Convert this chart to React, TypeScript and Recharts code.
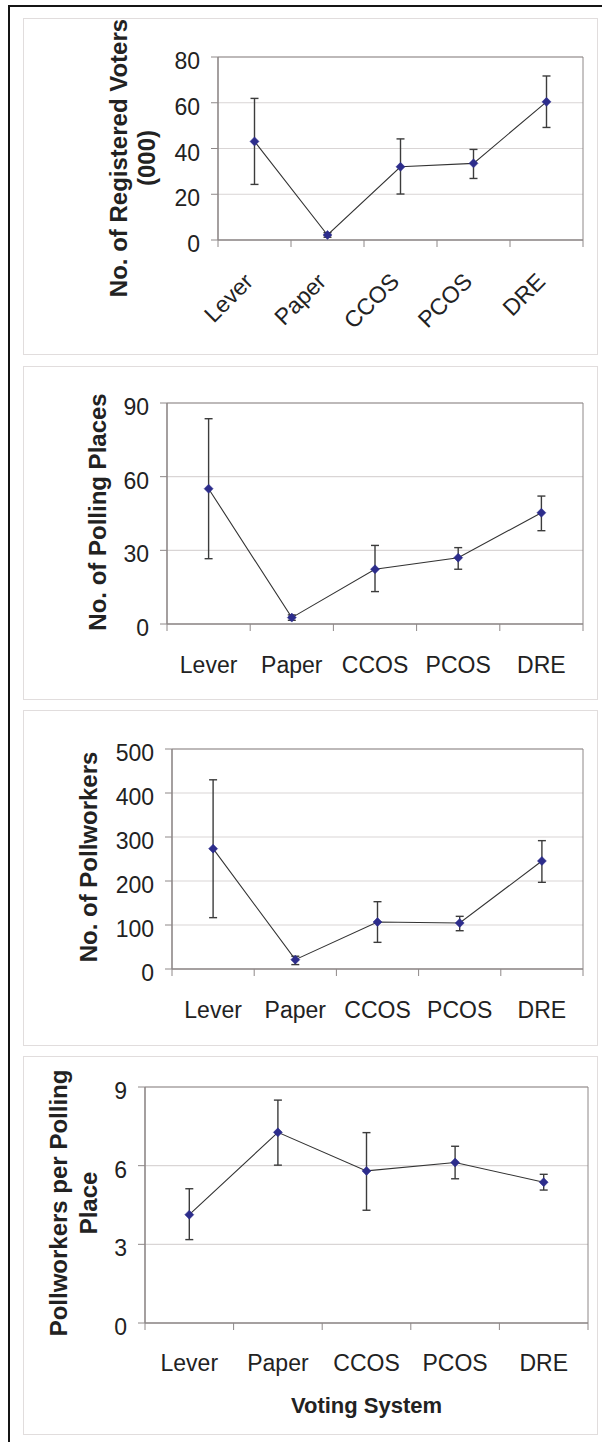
import React from 'react';
import { LineChart, Line, XAxis, YAxis, CartesianGrid, ErrorBar, ReferenceArea, Label } from 'recharts';

const FONT = '"Liberation Sans", Arial, Helvetica, sans-serif';

const categories = ['Lever', 'Paper', 'CCOS', 'PCOS', 'DRE'];

const votersMean = [43.1, 2.2, 32.0, 33.5, 60.4];
const votersHigh = [61.9, 3.2, 44.2, 39.6, 71.7];
const votersLow = [24.3, 1.2, 20.1, 26.9, 49.2];
const votersTicks = [0, 20, 40, 60, 80];

const placesMean = [55.1, 2.6, 22.3, 27.0, 45.3];
const placesHigh = [83.6, 3.7, 32.0, 31.1, 52.1];
const placesLow = [26.6, 1.5, 13.2, 22.3, 38.0];
const placesTicks = [0, 30, 60, 90];

const workersMean = [273.5, 21.2, 106.8, 104.5, 245.5];
const workersHigh = [430, 29, 153, 119.7, 291.7];
const workersLow = [116.7, 10, 60.6, 87, 197];
const workersTicks = [0, 100, 200, 300, 400, 500];

const ratioMean = [4.13, 7.27, 5.8, 6.12, 5.37];
const ratioHigh = [5.12, 8.5, 7.26, 6.74, 5.67];
const ratioLow = [3.18, 6.02, 4.3, 5.5, 5.07];
const ratioTicks = [0, 3, 6, 9];

const GRID = '#d9d5d5';
const BORDER = '#8e8888';
const TEXT = '#222222';

function buildRows(mean: number[], high: number[], low: number[]) {
  return categories.map((name, i) => ({
    name,
    pos: i + 0.5,
    mean: mean[i],
    err: [mean[i] - low[i], high[i] - mean[i]],
  }));
}

// band edges (integers) and band centres (halves) on a numeric category axis
const xTicks: number[] = categories.flatMap((_, i) => [i, i + 0.5]).concat([categories.length]);

const Diamond = (props: any) => {
  const { cx, cy, index } = props;
  if (cx == null || cy == null) return <g key={`d${index}`} />;
  const r = 4.5;
  return (
    <path
      key={`d${index}`}
      d={`M${cx},${cy - r} L${cx + r},${cy} L${cx},${cy + r} L${cx - r},${cy} Z`}
      fill="#2d2d8c"
      stroke="#2d2d8c"
      strokeWidth={0.5}
    />
  );
};

function makeXTick(rotate: boolean, labelDy: number) {
  return (props: any) => {
    const { x, y, payload, index } = props;
    const v = payload.value;
    if (Number.isInteger(v)) {
      return <line key={`t${index}`} x1={x} y1={y} x2={x} y2={y + 7} stroke={BORDER} strokeWidth={1} />;
    }
    const name = categories[Math.floor(v)];
    if (rotate) {
      const ty = y + labelDy;
      return (
        <text
          key={`t${index}`}
          x={x}
          y={ty}
          transform={`rotate(-45 ${x} ${ty})`}
          textAnchor="end"
          fontSize={23}
          fontFamily={FONT}
          fill={TEXT}
        >
          {name}
        </text>
      );
    }
    return (
      <text key={`t${index}`} x={x} y={y + labelDy} textAnchor="middle" fontSize={23} fontFamily={FONT} fill={TEXT}>
        {name}
      </text>
    );
  };
}

type PanelProps = {
  top: number;
  height: number;
  plotLeft: number;
  plotRight: number;
  plotTop: number;
  plotBottom: number;
  rows: any[];
  ticks: number[];
  yLines: { text: string; x: number }[];
  yCenter: number;
  rotate: boolean;
  labelDy: number;
  xTitle?: string;
  xTitleDy?: number;
};

function Panel(p: PanelProps) {
  const W = 602;
  const yAxisW = 60;
  const xAxisH = 40;
  const margin = {
    top: p.plotTop - p.top,
    left: p.plotLeft - yAxisW,
    right: W - p.plotRight,
    bottom: p.top + p.height - p.plotBottom - xAxisH,
  };
  const maxY = p.ticks[p.ticks.length - 1];
  const localCenter = p.yCenter - p.top;
  const localAxisY = p.plotBottom - p.top;
  const yLabel = () => (
    <g>
      {p.yLines.map((l, i) => (
        <text
          key={i}
          x={l.x}
          y={localCenter}
          transform={`rotate(-90 ${l.x} ${localCenter})`}
          textAnchor="middle"
          fontSize={24}
          fontWeight="bold"
          fontFamily={FONT}
          fill={TEXT}
        >
          {l.text}
        </text>
      ))}
    </g>
  );
  const xTitle = () => (
    <text
      x={(p.plotLeft + p.plotRight) / 2}
      y={localAxisY + (p.xTitleDy || 0)}
      textAnchor="middle"
      fontSize={22}
      fontWeight="bold"
      fontFamily={FONT}
      fill={TEXT}
    >
      {p.xTitle}
    </text>
  );
  return (
    <>
      <div
        style={{
          position: 'absolute',
          left: 23,
          top: p.top,
          width: 575,
          height: p.height,
          border: '1.5px solid #e1dddd',
          boxSizing: 'border-box',
        }}
      />
      <div style={{ position: 'absolute', left: 0, top: p.top, width: W, height: p.height }}>
        <LineChart width={W} height={p.height} data={p.rows} margin={margin}>
          <CartesianGrid vertical={false} stroke={GRID} strokeWidth={1.2} />
          <ReferenceArea x1={0} x2={categories.length} y1={0} y2={maxY} fill="none" stroke={BORDER} strokeWidth={1} />
          <XAxis
            dataKey="pos"
            type="number"
            domain={[0, categories.length]}
            ticks={xTicks}
            interval={0}
            height={xAxisH}
            tickSize={0}
            tickMargin={0}
            tickLine={false}
            axisLine={{ stroke: BORDER, strokeWidth: 1.2 }}
            tick={makeXTick(p.rotate, p.labelDy)}
          >
            {p.xTitle ? <Label content={xTitle} /> : null}
          </XAxis>
          <YAxis
            type="number"
            domain={[0, maxY]}
            ticks={p.ticks}
            interval={0}
            width={yAxisW}
            tickSize={7}
            tickMargin={11}
            axisLine={{ stroke: BORDER, strokeWidth: 1.2 }}
            tickLine={{ stroke: BORDER }}
            tick={{ fontSize: 23, fill: TEXT, fontFamily: FONT, dy: 4 }}
          >
            <Label content={yLabel} />
          </YAxis>
          <Line
            dataKey="mean"
            type="linear"
            stroke="#333333"
            strokeWidth={1.1}
            dot={Diamond}
            activeDot={false}
            isAnimationActive={false}
          >
            <ErrorBar dataKey="err" direction="y" width={4} stroke="#3c3c3c" strokeWidth={1.4} isAnimationActive={false} />
          </Line>
        </LineChart>
      </div>
    </>
  );
}

export default function App() {
  return (
    <div style={{ position: 'absolute', left: 0, top: 0, width: 602, height: 1442, background: '#ffffff', overflow: 'hidden' }}>
      <div
        style={{
          position: 'absolute',
          left: 8,
          top: 5,
          width: 600,
          height: 1440,
          borderTop: '2.5px solid #151515',
          borderLeft: '2.5px solid #151515',
          boxSizing: 'border-box',
        }}
      />
      <Panel
        top={18}
        height={337}
        plotLeft={218}
        plotRight={583}
        plotTop={57}
        plotBottom={240}
        rows={buildRows(votersMean, votersHigh, votersLow)}
        ticks={votersTicks}
        yLines={[
          { text: 'No. of Registered Voters', x: 127 },
          { text: '(000)', x: 155 },
        ]}
        yCenter={158}
        rotate={true}
        labelDy={43}
      />
      <Panel
        top={366}
        height={334}
        plotLeft={167}
        plotRight={583}
        plotTop={403}
        plotBottom={624}
        rows={buildRows(placesMean, placesHigh, placesLow)}
        ticks={placesTicks}
        yLines={[{ text: 'No. of Polling Places', x: 106 }]}
        yCenter={512}
        rotate={false}
        labelDy={49}
      />
      <Panel
        top={710}
        height={336}
        plotLeft={172}
        plotRight={583}
        plotTop={749}
        plotBottom={969}
        rows={buildRows(workersMean, workersHigh, workersLow)}
        ticks={workersTicks}
        yLines={[{ text: 'No. of Pollworkers', x: 97 }]}
        yCenter={857}
        rotate={false}
        labelDy={49}
      />
      <Panel
        top={1056}
        height={379}
        plotLeft={145}
        plotRight={588}
        plotTop={1087}
        plotBottom={1323}
        rows={buildRows(ratioMean, ratioHigh, ratioLow)}
        ticks={ratioTicks}
        yLines={[
          { text: 'Pollworkers per Polling', x: 67 },
          { text: 'Place', x: 97 },
        ]}
        yCenter={1203}
        rotate={false}
        labelDy={48}
        xTitle="Voting System"
        xTitleDy={90}
      />
    </div>
  );
}
